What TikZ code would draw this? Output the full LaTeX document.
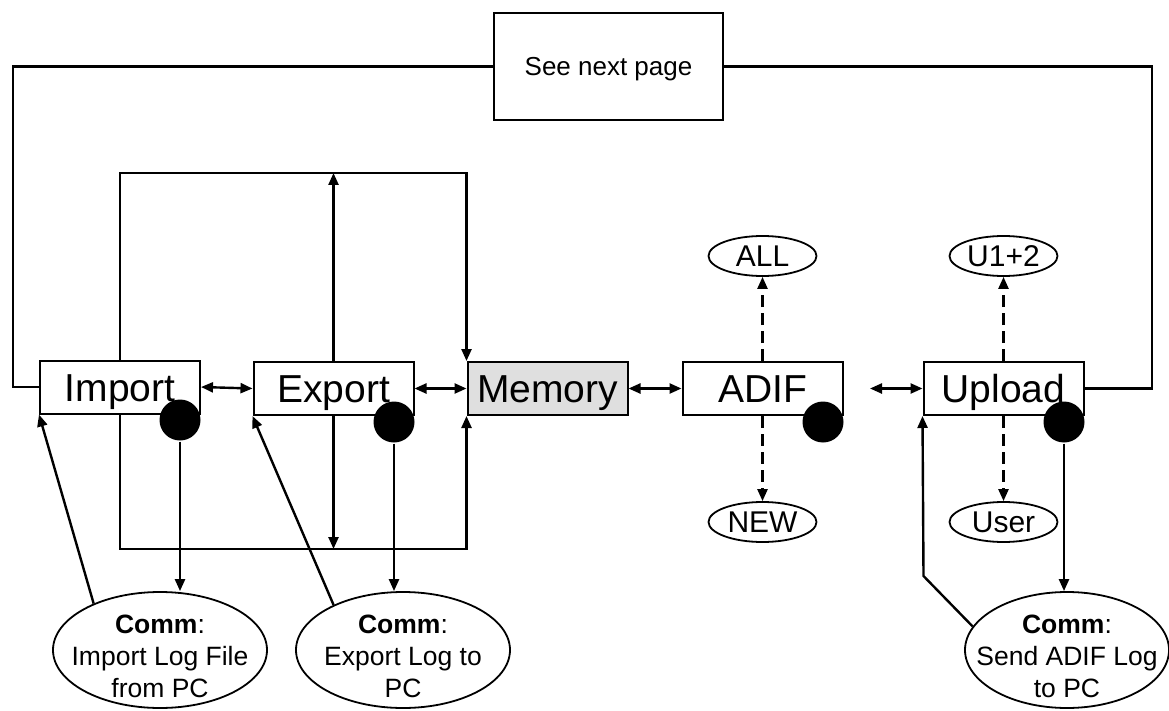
\documentclass[tikz,border=0pt]{standalone}
\usepackage{fontspec}
\setmainfont{Liberation Sans}
\usetikzlibrary{arrows.meta,shapes.geometric}
\begin{document}
\begin{tikzpicture}[x=1pt,y=-1pt, line width=2.4pt,
 box/.style={draw, line width=2pt, minimum width=160pt, minimum height=53pt, inner sep=0pt, text height=28pt, text depth=0pt, font=\fontsize{39}{41}\selectfont},
 dot/.style={circle, fill=black, minimum size=41pt, inner sep=0pt},
 oval/.style={ellipse, draw, line width=1.8pt, inner sep=0pt, minimum width=108pt, minimum height=40pt, text height=21pt, text depth=0pt, font=\fontsize{30}{32}\selectfont},
 comm/.style={ellipse, draw, line width=1.8pt, inner sep=0pt, minimum width=214pt, minimum height=116pt},
 commtext/.style={align=center, inner sep=0pt, font=\fontsize{26.5}{32}\selectfont},
 arr/.style={-{Triangle[length=12pt,width=10pt]}},
 darr/.style={{Triangle[length=12pt,width=10pt]}-{Triangle[length=12pt,width=10pt]}},
 dsh/.style={arr, dash pattern=on 12pt off 6pt}]
\useasboundingbox (0,0) rectangle (1169,711);

% boxes
\node[draw, line width=2pt, minimum width=229pt, minimum height=107pt, inner sep=0pt, text height=19pt, text depth=0pt, font=\fontsize{26}{28}\selectfont] (see) at (608.5,66.5) {See next page};
\node[box] (imp) at (120,387) {Import};
\node[box] (exp) at (333.5,388.5) {Export};
\node[box, fill=gray!25] (mem) at (547.5,388.5) {Memory};
\node[box] (adif) at (762.5,388.5) {ADIF};
\node[box] (upl) at (1003.5,388.5) {Upload};

% small ellipses
\node[oval] (all) at (762.5,256) {ALL};
\node[oval] (new) at (762.5,522) {NEW};
\node[oval] (u12) at (1003.5,256) {U1+2};
\node[oval] (user) at (1003.5,522) {User};

% comm ellipses
\node[comm] (c1) at (160,650) {};
\node[commtext] (c1t) at (160,656) {\textbf{Comm}:\\Import Log File\\from PC};
\node[comm] (c2) at (403,650) {};
\node[commtext] (c2t) at (403,656) {\textbf{Comm}:\\Export Log to\\PC};
\node[comm, minimum width=204pt] (c3) at (1067,650) {};
\node[commtext] (c3t) at (1067,656) {\textbf{Comm}:\\Send ADIF Log\\to PC};

% outer loop
\coordinate (lc) at (13,66.5);
\coordinate (rc) at (1152,66.5);
\draw (see.west) -- (lc) |- (imp.west);
\draw (see.east) -- (rc) |- (upl.east);

% top and bottom loops
\coordinate (tl) at (120,173);
\coordinate (bl) at (120,549);
\draw[arr] (imp.north) -- (imp.north |- tl) -| (mem.north west);
\draw[arr] (exp.north) -- (exp.north |- tl);
\draw[arr] (imp.south) -- (imp.south |- bl) -| (mem.south west);
\draw[arr] (exp.south) -- (exp.south |- bl);

% double arrows
\draw[darr] (imp.east) -- (exp.west);
\draw[darr] (exp.east) -- (mem.west);
\draw[darr] (mem.east) -- (adif.west);
\coordinate (ae) at (870,388.5);
\draw[darr] (ae) -- (upl.west);

% dashed arrows
\draw[dsh] (adif.north) -- (all.south);
\draw[dsh] (adif.south) -- (new.north);
\draw[dsh] (upl.north) -- (u12.south);
\draw[dsh] (upl.south) -- (user.north);

% dots
\node[dot] (d1) at (180,420) {};
\node[dot] (d2) at (394,422) {};
\node[dot] (d3) at (823,422) {};
\node[dot] (d4) at (1064,422) {};

\draw[arr] (d1.south) -- (d1.south |- c1.north);
\draw[arr] (d2.south) -- (d2.south |- c2.north);
\draw[arr] (d4.south) -- (d4.south |- c3.north);

% comm to boxes
\draw[arr] (c1.145) -- (imp.south west);
\draw[arr] (c2.147) -- (exp.south west);
\coordinate (k) at (923.5,576);
\draw[arr] (c3.166) -- (k) -- (upl.south west);
\end{tikzpicture}
\end{document}
